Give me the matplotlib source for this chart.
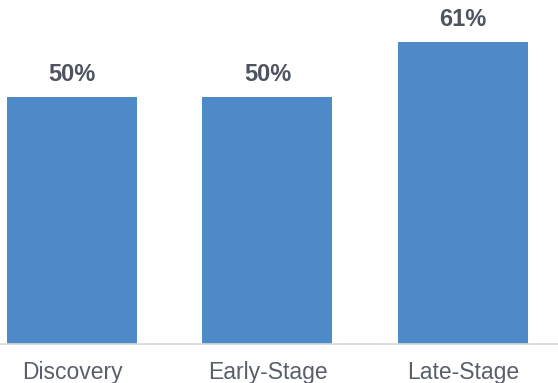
import matplotlib
matplotlib.use("Agg")
import matplotlib.pyplot as plt

categories = ["Discovery", "Early-Stage", "Late-Stage"]
values = [50, 50, 61]
labels = ["50%", "50%", "61%"]

W, H = 558, 383
fig = plt.figure(figsize=(W / 100, H / 100), dpi=100)
base_px = 343.5
ax = fig.add_axes([0, (H - base_px) / H, 1, base_px / H])
fam = ["Liberation Sans", "DejaVu Sans"]

x = list(range(len(categories)))
ax.bar(x, values, width=0.665, color="#4E8AC8", zorder=2)
ax.set_xlim(-0.368, 2.486)
ax.set_ylim(0, 69.6)

for xi, v, lab in zip(x, values, labels):
    ax.annotate(lab, (xi, v), xytext=(0, 11.5), textcoords="offset points",
                ha="center", va="baseline", fontsize=17, fontweight="bold",
                color="#4D5360", family=fam)

for xi, cat in zip(x, categories):
    ax.annotate(cat, (xi, 0), xycoords=("data", "axes fraction"),
                xytext=(0, -25.2), textcoords="offset points",
                ha="center", va="baseline", fontsize=16.5,
                color="#595F6B", family=fam, annotation_clip=False)

for s in ["top", "left", "right"]:
    ax.spines[s].set_visible(False)
ax.spines["bottom"].set_color("#D9D9D9")
ax.spines["bottom"].set_linewidth(1.2)
ax.set_yticks([])
ax.set_xticks([])
ax.set_facecolor("white")
fig.savefig("out.png", dpi=100)
